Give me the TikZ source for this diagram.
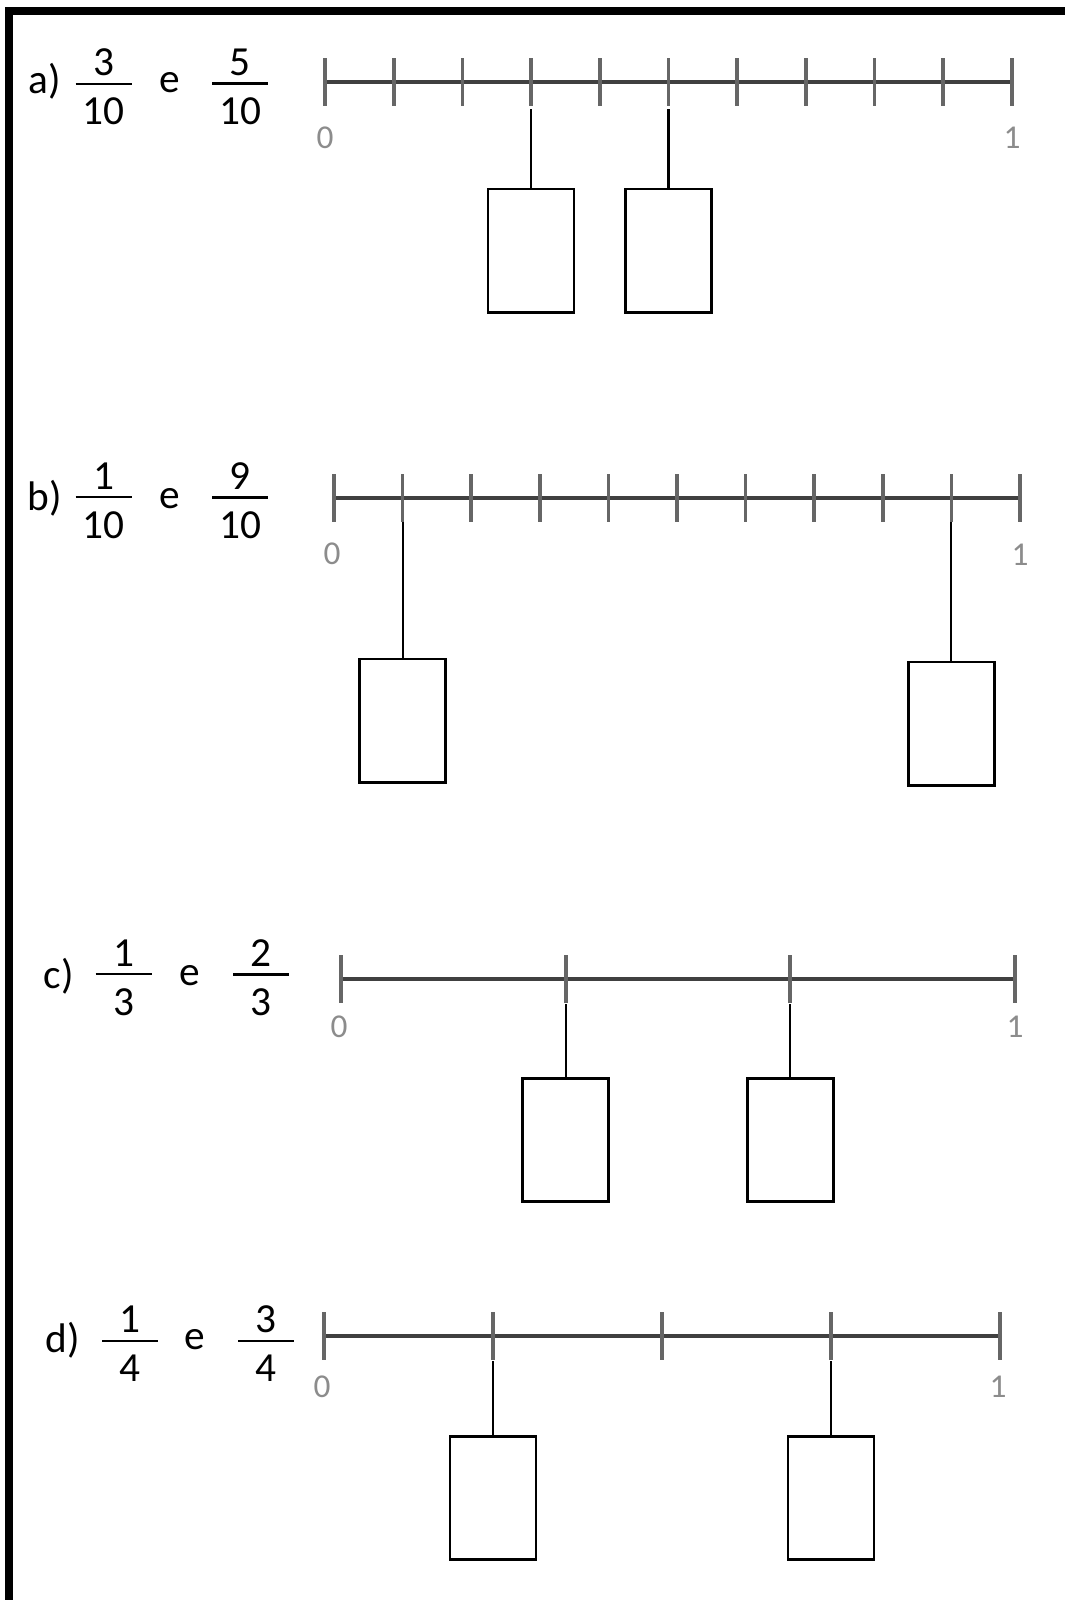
\documentclass[tikz,border=0pt]{standalone}
\usepackage{fontspec}
\setmainfont{Carlito}
\newcommand{\frc}[2]{\vbox{\hbox to 42pt{\hss#1\hss}\kern5pt\hrule height 1.6pt\kern10pt\hbox to 42pt{\hss#2\hss}}}
\begin{document}
\begin{tikzpicture}[x=0.75pt,y=-0.75pt,
  axisline/.style={draw=black!75, line width=2.5pt},
  tickmark/.style={draw=black!60, line width=2.8pt},
  stem/.style={draw=black, line width=1.6pt},
  answer/.style={draw=black, line width=2pt, minimum width=64.5pt, minimum height=92.5pt, inner sep=0pt},
  endlabel/.style={text=black!45, font=\fontsize{25}{30}\selectfont, inner sep=0pt},
  item/.style={font=\fontsize{31}{36}\selectfont, inner sep=0pt}]
\useasboundingbox (0,0) rectangle (1065,1600);
% frame
\fill (5,7) rectangle (13,1600);
\fill (5,7) rectangle (1065,15);

% a)
\node[item] (la) at (45,81) {a)};
\node[item] (fa1) at (103.5,87) {\frc{3}{10}};
\node[item] (ea) at (170,83) {e};
\node[item] (fa2) at (240,87) {\frc{5}{10}};
\draw[axisline] (325,82) -- (1012,82);
\foreach \i in {0,...,10} \draw[tickmark] ({325+68.7*\i},58) -- ({325+68.7*\i},106);
\node[endlabel] (za) at (325,138) {0};
\node[endlabel] (oa) at (1012,138) {1};
\coordinate (ta3) at (531.1,109);
\coordinate (ta5) at (668.5,109);
\node[answer] (ba1) at (531.1,250.5) {};
\node[answer] (ba2) at (668.5,250.5) {};
\draw[stem] (ta3) -- (ba1.north);
\draw[stem] (ta5) -- (ba2.north);

% b)
\node[item] (lb) at (45,498) {b)};
\node[item] (fb1) at (103.5,501) {\frc{1}{10}};
\node[item] (eb) at (170,499) {e};
\node[item] (fb2) at (240,501) {\frc{9}{10}};
\draw[axisline] (334,498) -- (1020,498);
\foreach \i in {0,...,10} \draw[tickmark] ({334+68.6*\i},474) -- ({334+68.6*\i},522);
\node[endlabel] (zb) at (332,554) {0};
\node[endlabel] (ob) at (1020,555) {1};
\coordinate (tb1) at (402.6,522);
\coordinate (tb9) at (951.4,522);
\node[answer] (bb1) at (402.6,720.5) {};
\node[answer] (bb2) at (951.4,723.5) {};
\draw[stem] (tb1) -- (bb1.north);
\draw[stem] (tb9) -- (bb2.north);

% c)
\node[item] (lc) at (59,976) {c)};
\node[item] (fc1) at (123.5,978) {\frc{1}{3}};
\node[item] (ec) at (190,976) {e};
\node[item] (fc2) at (261,978) {\frc{2}{3}};
\draw[axisline] (341,979) -- (1015,979);
\foreach \i in {0,...,3} \draw[tickmark] ({341+224.67*\i},955) -- ({341+224.67*\i},1003);
\node[endlabel] (zc) at (339,1027) {0};
\node[endlabel] (oc) at (1015,1027) {1};
\coordinate (tc1) at (565.7,1004);
\coordinate (tc2) at (790.3,1004);
\node[answer] (bc1) at (565.7,1140) {};
\node[answer] (bc2) at (790.3,1140) {};
\draw[stem] (tc1) -- (bc1.north);
\draw[stem] (tc2) -- (bc2.north);

% d)
\node[item] (ld) at (63,1340) {d)};
\node[item] (fd1) at (130,1344) {\frc{1}{4}};
\node[item] (ed) at (195,1340) {e};
\node[item] (fd2) at (266,1344) {\frc{3}{4}};
\draw[axisline] (324,1336) -- (1000,1336);
\foreach \i in {0,...,4} \draw[tickmark] ({324+169*\i},1312) -- ({324+169*\i},1360);
\node[endlabel] (zd) at (322,1387) {0};
\node[endlabel] (od) at (998,1387) {1};
\coordinate (td1) at (493,1361);
\coordinate (td3) at (831,1361);
\node[answer] (bd1) at (493,1498) {};
\node[answer] (bd2) at (831,1498) {};
\draw[stem] (td1) -- (bd1.north);
\draw[stem] (td3) -- (bd2.north);
\end{tikzpicture}
\end{document}
